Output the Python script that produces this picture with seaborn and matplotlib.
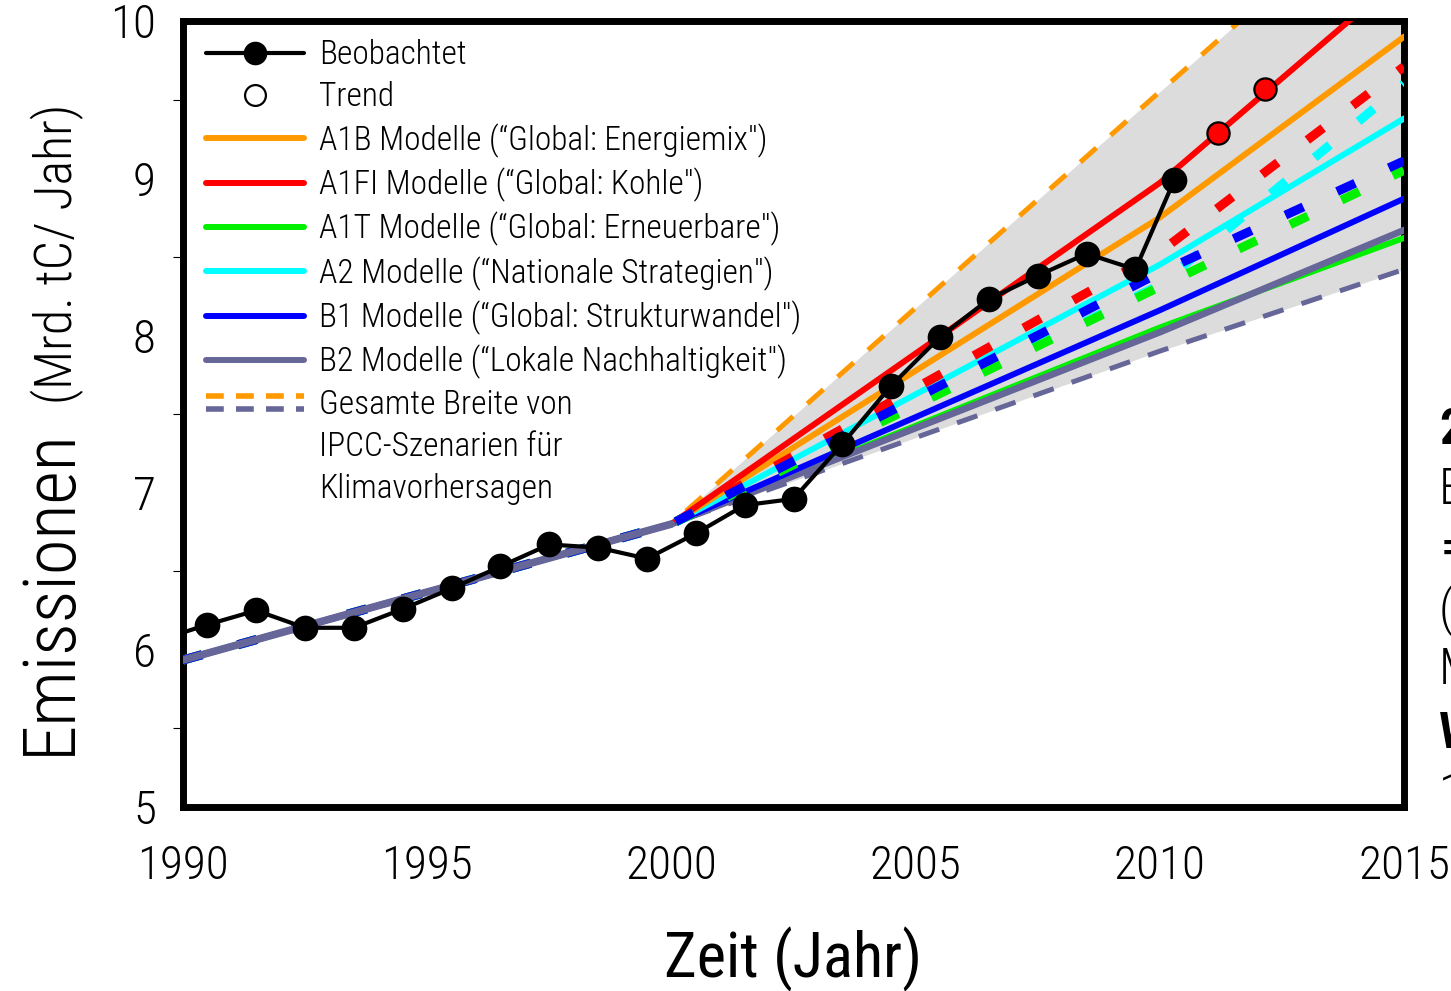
import numpy as np
import pandas as pd
import matplotlib
matplotlib.use("Agg")
import matplotlib.pyplot as plt
import seaborn as sns
from matplotlib.lines import Line2D
from matplotlib.legend_handler import HandlerBase

# -----------------------------
# Data
# -----------------------------
obs_years = [1989.5, 1990.5, 1991.5, 1992.5, 1993.5, 1994.5, 1995.5, 1996.5, 1997.5,
             1998.5, 1999.5, 2000.5, 2001.5, 2002.5, 2003.5, 2004.5, 2005.5, 2006.5,
             2007.5, 2008.5, 2009.5, 2010.3]
obs_emis = [6.06, 6.16, 6.25, 6.14, 6.14, 6.26, 6.39, 6.53, 6.67,
            6.65, 6.58, 6.74, 6.92, 6.96, 7.31, 7.68, 7.99, 8.23,
            8.38, 8.52, 8.42, 8.99]

trend_years = [2011.2, 2012.15]
trend_emis = [9.29, 9.57]

hist_years = [1990, 2000]
hist_emis = [5.935, 6.80]

scen_years = [1990, 2000, 2010, 2015]
a1b = [5.935, 6.80, 8.75, 9.90]
a1fi = [5.935, 6.80, 8.97, 10.30]
a1t = [5.935, 6.80, 8.05, 8.62]
a2 = [5.935, 6.80, 8.45, 9.38]
b1 = [5.935, 6.80, 8.16, 8.87]
b2 = [5.935, 6.80, 8.02, 8.67]
a1fi_dot = [5.935, 6.80, 8.53, 9.71]
a2_dot = [5.935, 6.80, 8.32, 9.60]
a1t_dot = [5.935, 6.80, 8.31, 9.05]
b1_dot = [5.935, 6.80, 8.40, 9.11]
range_hi = [5.935, 6.80, 9.55, 10.92]
range_lo = [5.935, 6.80, 7.90, 8.42]

legend_labels = ["Beobachtet", "Trend",
                 "A1B Modelle (\u201cGlobal: Energiemix\u2033)",
                 "A1FI Modelle (\u201cGlobal: Kohle\u2033)",
                 "A1T Modelle (\u201cGlobal: Erneuerbare\u2033)",
                 "A2 Modelle (\u201cNationale Strategien\u2033)",
                 "B1 Modelle (\u201cGlobal: Strukturwandel\u2033)",
                 "B2 Modelle (\u201cLokale Nachhaltigkeit\u2033)",
                 "Gesamte Breite von", "IPCC-Szenarien f\u00fcr", "Klimavorhersagen"]

ORANGE = "#FF9900"
RED = "#FF0000"
GREEN = "#00F000"
CYAN = "#00FFFF"
BLUE = "#0000FF"
SLATE = "#666699"
FILL = "#DCDCDC"

sns.set_style("white")
FONT = ["Roboto Condensed", "DejaVu Sans"]
plt.rcParams["font.family"] = FONT
plt.rcParams["font.weight"] = 300
plt.rcParams["text.color"] = "black"
plt.rcParams["axes.labelcolor"] = "black"
plt.rcParams["xtick.color"] = "black"
plt.rcParams["ytick.color"] = "black"

W, H = 1451, 991
fig = plt.figure(figsize=(W / 100, H / 100), dpi=100)
ax = fig.add_axes([183 / W, 1 - 807 / H, (1404 - 183) / W, (807 - 21) / H])

# shaded range of all scenarios
ax.fill_between(scen_years, range_lo, range_hi, color=FILL, lw=0, zorder=0.5)

dash_range = (0, (4.3, 3.8))
dash_dot = (0, (2.2, 4.1))

sns.lineplot(x=scen_years, y=range_hi, ax=ax, color=ORANGE, lw=3.6, linestyle=dash_range, zorder=2)
sns.lineplot(x=scen_years, y=range_lo, ax=ax, color=SLATE, lw=3.6, linestyle=dash_range, zorder=2)

# solid model lines
sns.lineplot(x=scen_years, y=a1t, ax=ax, color=GREEN, lw=4.3, zorder=3)
sns.lineplot(x=scen_years, y=b2, ax=ax, color=SLATE, lw=4.8, zorder=3)
sns.lineplot(x=scen_years, y=b1, ax=ax, color=BLUE, lw=4.3, zorder=3)
sns.lineplot(x=scen_years, y=a2, ax=ax, color=CYAN, lw=4.3, zorder=3)
sns.lineplot(x=scen_years, y=a1b, ax=ax, color=ORANGE, lw=4.3, zorder=3)
sns.lineplot(x=scen_years, y=a1fi, ax=ax, color=RED, lw=4.3, zorder=3)

# dotted model lines
sns.lineplot(x=scen_years, y=a1fi_dot, ax=ax, color=RED, lw=6.5, linestyle=dash_dot, zorder=4)
sns.lineplot(x=scen_years, y=a2_dot, ax=ax, color=CYAN, lw=6.5, linestyle=dash_dot, zorder=4)
sns.lineplot(x=scen_years, y=a1t_dot, ax=ax, color=GREEN, lw=6.5, linestyle=dash_dot, zorder=4)
sns.lineplot(x=scen_years, y=b1_dot, ax=ax, color=BLUE, lw=6.5, linestyle=dash_dot, zorder=4)

# common history before 2000
sns.lineplot(x=hist_years, y=hist_emis, ax=ax, color=SLATE, lw=5.5, zorder=5)

# observations and trend
sns.lineplot(x=obs_years, y=obs_emis, ax=ax, color="black", lw=3, marker="o",
             markersize=18.5, markeredgewidth=0, zorder=6)
sns.scatterplot(x=trend_years, y=trend_emis, ax=ax, color=RED, s=16 ** 2,
                edgecolor="black", linewidth=1.6, zorder=7)

ax.set_xlim(1990, 2015)
ax.set_ylim(5, 10)
ax.set_xticks(range(1990, 2016, 5))
ax.set_yticks(range(5, 11))
ax.set_yticks(np.arange(5.5, 10, 1.0), minor=True)
ax.tick_params(axis="both", which="major", direction="out", length=8.6, width=2.2,
               labelsize=34, color="black")
ax.tick_params(axis="y", which="major", pad=11)
ax.tick_params(axis="x", which="major", pad=18)
ax.tick_params(axis="y", which="minor", direction="out", length=7, width=0.8, left=True)
for sp in ax.spines.values():
    sp.set_visible(True)
    sp.set_linewidth(5)
    sp.set_color("black")

ax.set_xlabel("Zeit (Jahr)", fontsize=45, labelpad=28)


# legend handle for the range: two stacked dashed lines
class DoubleDashHandler(HandlerBase):
    def create_artists(self, legend, orig_handle, xdescent, ydescent, width, height, fontsize, trans):
        mid = height / 2 - ydescent
        off = 0.2 * fontsize
        arts = []
        for dy, h in zip((off, -off), orig_handle):
            ln = Line2D([-xdescent, width - xdescent], [mid + dy, mid + dy])
            ln.update_from(h)
            ln.set_transform(trans)
            arts.append(ln)
        return arts


leg_dash = (0, (3.2, 2.2))
handles = [
    Line2D([], [], color="black", lw=3, marker="o", markersize=17, markeredgewidth=0),
    Line2D([], [], ls="none", marker="o", markersize=15, markerfacecolor="white",
           markeredgecolor="black", markeredgewidth=1.6),
    Line2D([], [], color=ORANGE, lw=4.3),
    Line2D([], [], color=RED, lw=4.3),
    Line2D([], [], color=GREEN, lw=4.3),
    Line2D([], [], color=CYAN, lw=4.3),
    Line2D([], [], color=BLUE, lw=4.3),
    Line2D([], [], color=SLATE, lw=4.3),
    (Line2D([], [], color=ORANGE, lw=4, linestyle=leg_dash),
     Line2D([], [], color=SLATE, lw=4, linestyle=leg_dash)),
    Line2D([], [], color="none"),
    Line2D([], [], color="none"),
]
ax.legend(handles, legend_labels, loc="upper left", bbox_to_anchor=(0.005, 0.998), frameon=False,
          fontsize=24, handlelength=2.94, handletextpad=0.45, labelspacing=0.30,
          borderaxespad=0.1, borderpad=0.4, numpoints=1,
          handler_map={tuple: DoubleDashHandler()})

# y-axis label in two sizes
emis_txt = fig.text(70 / W, 1 - 755 / H, "Emissionen", rotation=90, rotation_mode="anchor",
                    ha="left", va="baseline", fontsize=52.5)
fig.canvas.draw()
bb = emis_txt.get_window_extent()
fig.text(72 / W, (bb.y1 + 24) / H, "(Mrd. tC/ Jahr)", rotation=90, rotation_mode="anchor",
         ha="left", va="baseline", fontsize=37.5)

# text from the neighbouring panel, cut at the image edge
edge_chars = ["2", "E", "\u2259", "(", "M", "W", "1"]
edge_bold = [True, False, False, False, False, True, False]
edge_y = [430, 490, 550, 610, 670, 735, 795]
for ch, bold, yy in zip(edge_chars, edge_bold, edge_y):
    fig.text(1439 / W, 1 - yy / H, ch, fontsize=36, ha="left", va="center",
             fontweight="bold" if bold else 300, family=FONT)

fig.savefig("out.png", dpi=100)
